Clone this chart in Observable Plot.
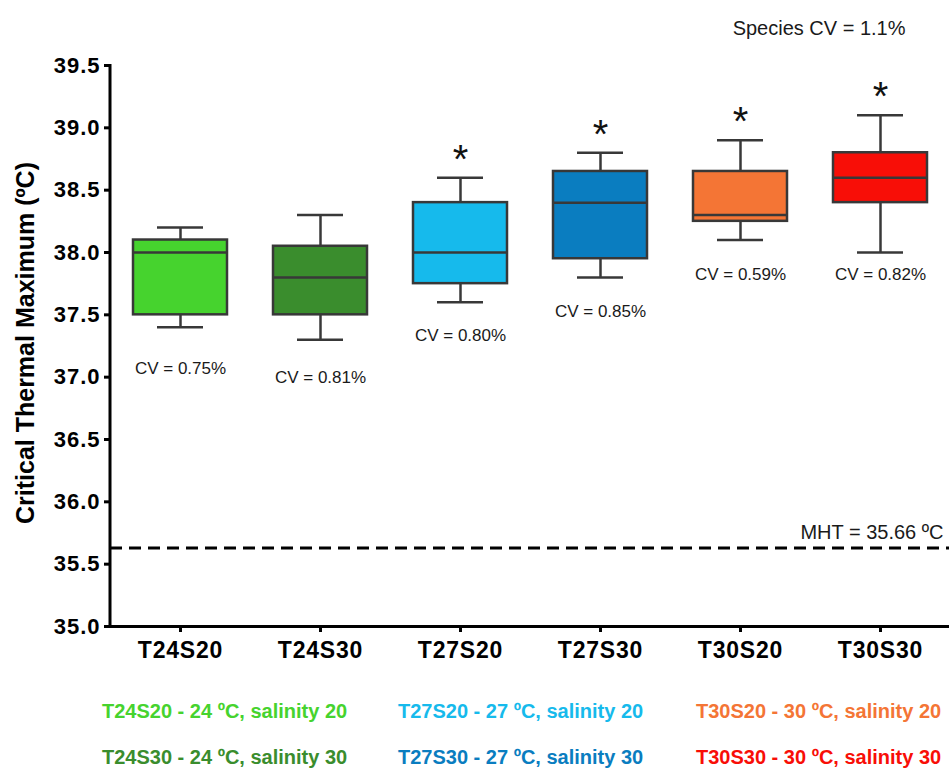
<!DOCTYPE html>
<html>
<head>
<meta charset="utf-8">
<script src="https://cdn.jsdelivr.net/npm/d3@7"></script>
<script src="https://cdn.jsdelivr.net/npm/@observablehq/plot@0.6"></script>
<style>
  html, body { margin: 0; padding: 0; background: #fff; }
  #chart { width: 949px; }
  .chart [aria-label="y-axis tick label"] text { letter-spacing: 1px; }
  .chart [aria-label="x-axis tick label"] text { letter-spacing: 0.8px; }
  #legend { position: relative; width: 949px; height: 89px; font-family: "Liberation Sans", Arial, sans-serif; }
  #legend div { position: absolute; font-size: 20px; line-height: 20px; font-weight: bold; white-space: nowrap; }
</style>
</head>
<body>
<div id="chart"></div>
<div id="legend"></div>
<script>
const names = ["T24S20", "T24S30", "T27S20", "T27S30", "T30S20", "T30S30"];
const lows = [37.4, 37.3, 37.6, 37.8, 38.1, 38.0];
const q1s = [37.5, 37.5, 37.75, 37.95, 38.25, 38.4];
const medians = [38.0, 37.8, 38.0, 38.4, 38.3, 38.6];
const q3s = [38.1, 38.05, 38.4, 38.65, 38.65, 38.8];
const highs = [38.2, 38.3, 38.6, 38.8, 38.9, 39.1];
const cvs = ["0.75%", "0.81%", "0.80%", "0.85%", "0.59%", "0.82%"];
const cvLabelY = [37.07, 37.0, 37.33, 37.53, 37.82, 37.82];
const significant = [false, false, true, true, true, true];
const colors = ["#46D32E", "#3A8D2D", "#16BAEC", "#0A7DC0", "#F47535", "#F80E07"];
const yTicks = [35.0, 35.5, 36.0, 36.5, 37.0, 37.5, 38.0, 38.5, 39.0, 39.5];
const mhtLine = 35.63;
const mhtLabel = "MHT = 35.66 ºC";
const speciesCV = "Species CV = 1.1%";
const yLabel = "Critical Thermal Maximum (ºC)";
const legendLabels = [
  "T24S20 - 24 ºC, salinity 20", "T24S30 - 24 ºC, salinity 30",
  "T27S20 - 27 ºC, salinity 20", "T27S30 - 27 ºC, salinity 30",
  "T30S20 - 30 ºC, salinity 20", "T30S30 - 30 ºC, salinity 30"
];

const data = names.map((name, i) => ({
  name, lo: lows[i], q1: q1s[i], med: medians[i], q3: q3s[i], hi: highs[i],
  cv: cvs[i], cvY: cvLabelY[i], sig: significant[i]
}));

const boxStroke = "#383838";
const font = "Liberation Sans, Arial, sans-serif";

const leftAxisLine = (index, scales, values, dimensions) => {
  const {marginLeft, marginTop, marginBottom, height} = dimensions;
  return d3.create("svg:line")
    .attr("x1", marginLeft).attr("x2", marginLeft)
    .attr("y1", marginTop - 1).attr("y2", height - marginBottom + 1.5)
    .attr("stroke", "#000").attr("stroke-width", 3)
    .node();
};

const chart = Plot.plot({
  width: 949,
  height: 680,
  marginLeft: 110,
  marginRight: 0,
  marginTop: 65,
  marginBottom: 54,
  className: "chart",
  style: {fontFamily: font, color: "#000", background: "#fff"},
  x: {domain: names, paddingInner: 0.33, paddingOuter: 0.16, label: null},
  y: {domain: [35, 39.5], label: null},
  color: {domain: names, range: colors},
  marks: [
    Plot.ruleY([mhtLine], {stroke: "#000", strokeWidth: 3, strokeDasharray: "12,7"}),
    Plot.ruleX(data, {x: "name", y1: "lo", y2: "hi", stroke: boxStroke, strokeWidth: 2.5}),
    Plot.tickY(data, {x: "name", y: "lo", stroke: boxStroke, strokeWidth: 2.5, insetLeft: 24, insetRight: 24}),
    Plot.tickY(data, {x: "name", y: "hi", stroke: boxStroke, strokeWidth: 2.5, insetLeft: 24, insetRight: 24}),
    Plot.barY(data, {x: "name", y1: "q1", y2: "q3", fill: "name", stroke: boxStroke, strokeWidth: 2.5}),
    Plot.tickY(data, {x: "name", y: "med", stroke: boxStroke, strokeWidth: 2.5}),
    Plot.text(data, {x: "name", y: "cvY", text: d => `CV = ${d.cv}`, fontSize: 17, fill: "#1a1a1a"}),
    Plot.text(data.filter(d => d.sig), {x: "name", y: "hi", text: () => "*", fontSize: 40, lineAnchor: "bottom", dy: -5, fill: "#111"}),
    Plot.text([mhtLabel], {y: () => mhtLine, frameAnchor: "right", textAnchor: "end", text: d => d, fontSize: 20, dx: -6, dy: -15, fill: "#1a1a1a"}),
    Plot.text([speciesCV], {frameAnchor: "top-right", textAnchor: "end", text: d => d, fontSize: 20, dx: -44, dy: -45, fill: "#1a1a1a"}),
    Plot.text([yLabel], {frameAnchor: "left", textAnchor: "middle", rotate: -90, text: d => d, fontSize: 25, fontWeight: "bold", dx: -85, dy: -3, fill: "#000"}),
    Plot.axisY({ticks: yTicks, tickFormat: d3.format(".1f"), tickSize: 6, tickPadding: 4, strokeWidth: 3, fontSize: 22, fontWeight: "bold", label: null}),
    Plot.axisX({tickSize: 6, tickPadding: 9, strokeWidth: 3, fontSize: 23, fontWeight: "bold", label: null}),
    Plot.ruleY([35], {stroke: "#000", strokeWidth: 3}),
    leftAxisLine
  ]
});
document.getElementById("chart").appendChild(chart);

const legend = document.getElementById("legend");
const colLeft = [102, 398, 696];
const rowTop = [21, 67];
legendLabels.forEach((label, i) => {
  const div = document.createElement("div");
  div.textContent = label;
  div.style.left = colLeft[Math.floor(i / 2)] + "px";
  div.style.top = rowTop[i % 2] + "px";
  div.style.color = colors[i];
  legend.appendChild(div);
});
</script>
</body>
</html>
